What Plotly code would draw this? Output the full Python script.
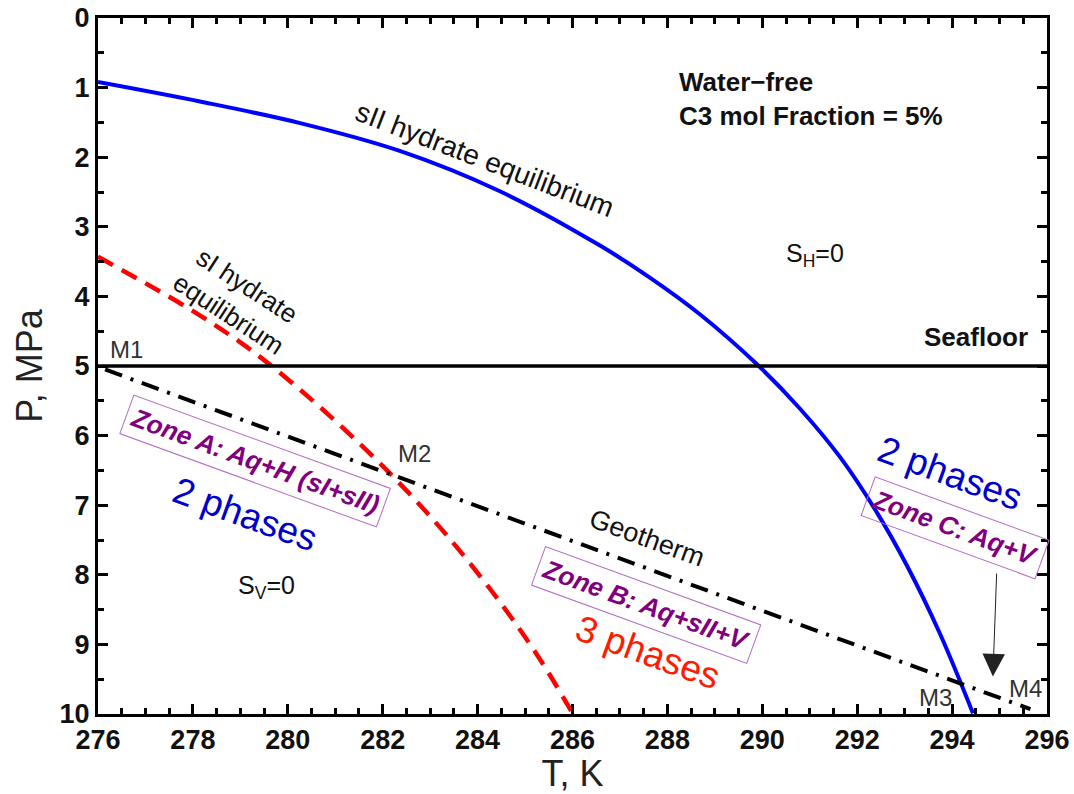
import plotly.graph_objects as go

# sII hydrate equilibrium curve (T in K, P in MPa)
sii_T = [276.0, 278.15, 280.26, 282.36, 284.47, 286.58, 287.63, 288.69, 289.91, 290.79, 291.64, 292.42, 293.05, 293.74, 294.44]
sii_P = [0.92, 1.20, 1.51, 1.91, 2.49, 3.27, 3.73, 4.26, 4.99, 5.61, 6.31, 7.11, 7.87, 8.84, 9.99]

# sI hydrate equilibrium curve
si_T = [276.0, 277.88, 279.0, 279.73, 280.89, 282.22, 283.36, 284.47, 285.32, 286.01]
si_P = [3.43, 4.16, 4.66, 5.04, 5.72, 6.59, 7.44, 8.39, 9.22, 10.0]

# Geotherm and seafloor
geo_T = [276.15, 295.65]
geo_P = [5.05, 9.93]
sea_T = [276.0, 296.0]
sea_P = [5.0, 5.0]

FONT = "Liberation Sans, Arial, sans-serif"

fig = go.Figure()
fig.add_trace(go.Scatter(x=sii_T, y=sii_P, mode="lines",
                         line=dict(color="#0000ff", width=4, shape="spline", smoothing=1.0), showlegend=False))
fig.add_trace(go.Scatter(x=si_T, y=si_P, mode="lines",
                         line=dict(color="#ff0000", width=4.5, dash="17px,10px", shape="spline", smoothing=1.0),
                         showlegend=False))
fig.add_trace(go.Scatter(x=sea_T, y=sea_P, mode="lines", line=dict(color="black", width=3.5), showlegend=False))
fig.add_trace(go.Scatter(x=geo_T, y=geo_P, mode="lines",
                         line=dict(color="black", width=4, dash="18px,9px,3px,9px"), showlegend=False))


def txt(x, y, text, size=20, color="#111111", angle=0, weight="normal", **kw):
    fig.add_annotation(x=x, y=y, text=text, showarrow=False, textangle=angle,
                       font=dict(family=FONT, size=size, color=color, weight=weight), **kw)


# Free labels
txt(288.2, 1.16, "Water\u2212free<br>C3 mol Fraction = 5%", size=26, weight="bold",
    xanchor="left", align="left")
txt(284.15, 2.03, "sII hydrate equilibrium", size=28, angle=21)
txt(278.95, 4.05, "sI hydrate<br>equilibrium", size=26, angle=33)
txt(291.1, 3.41, "S<sub>H</sub>=0", size=25)
txt(294.5, 4.58, "Seafloor", size=26, weight="bold")
txt(276.61, 4.76, "M1", size=24, color="#333333")
txt(282.68, 6.26, "M2", size=24, color="#333333")
txt(293.66, 9.76, "M3", size=24, color="#333333")
txt(295.54, 9.64, "M4", size=24, color="#333333")
txt(279.1, 7.13, "2 phases", size=37, angle=20, color="#0000cc")
txt(279.56, 8.17, "S<sub>V</sub>=0", size=25)
txt(287.57, 7.47, "Geotherm", size=27, angle=20)
txt(287.59, 9.11, "3 phases", size=37, angle=20, color="#ff1a00")
txt(293.96, 6.54, "2 phases", size=37, angle=20, color="#0000cc")


# Boxed zone labels
def zone(x, y, text, angle):
    fig.add_annotation(x=x, y=y, text="<b><i>" + text + "</i></b>", showarrow=False, textangle=angle,
                       font=dict(family=FONT, size=26, color="#800080"),
                       bordercolor="#b06cc0", borderwidth=1, borderpad=5, bgcolor="rgba(255,255,255,0)")


zone(279.31, 6.37, "Zone A: Aq+H (sI+sII)", 20)
zone(287.55, 8.44, "Zone B: Aq+sII+V", 20)
zone(294.07, 7.33, "Zone C: Aq+V", 20)

# Arrow from Zone C down to the geotherm
fig.add_annotation(x=294.86, y=9.46, ax=294.94, ay=7.96, xref="x", yref="y", axref="x", ayref="y",
                   showarrow=True, arrowhead=2, arrowsize=4.5, arrowwidth=1, arrowcolor="#222222", text="")

axis_common = dict(showline=True, linecolor="black", linewidth=3, mirror="ticks", ticks="inside",
                   ticklen=10, tickwidth=2.5, tickcolor="black", showgrid=False, zeroline=False,
                   automargin=False,
                   tickfont=dict(family=FONT, size=27, color="#111111", weight="bold"))

fig.update_xaxes(range=[276, 296], dtick=2, tick0=276,
                 minor=dict(dtick=0.5, ticks="inside", ticklen=6, tickwidth=2.5, tickcolor="black", showgrid=False),
                 title=dict(text="T, K", font=dict(family=FONT, size=36, color="#222222"), standoff=2),
                 **axis_common)
fig.update_yaxes(range=[10, 0], dtick=1, tick0=0,
                 minor=dict(dtick=0.5, ticks="inside", ticklen=6, tickwidth=2.5, tickcolor="black", showgrid=False),
                 title=dict(text="P, MPa", font=dict(family=FONT, size=36, color="#222222"), standoff=6),
                 **axis_common)

fig.update_layout(width=1074, height=794, margin=dict(l=98, r=27, t=18, b=80),
                  plot_bgcolor="white", paper_bgcolor="white", showlegend=False)

fig.write_html("out.html")
